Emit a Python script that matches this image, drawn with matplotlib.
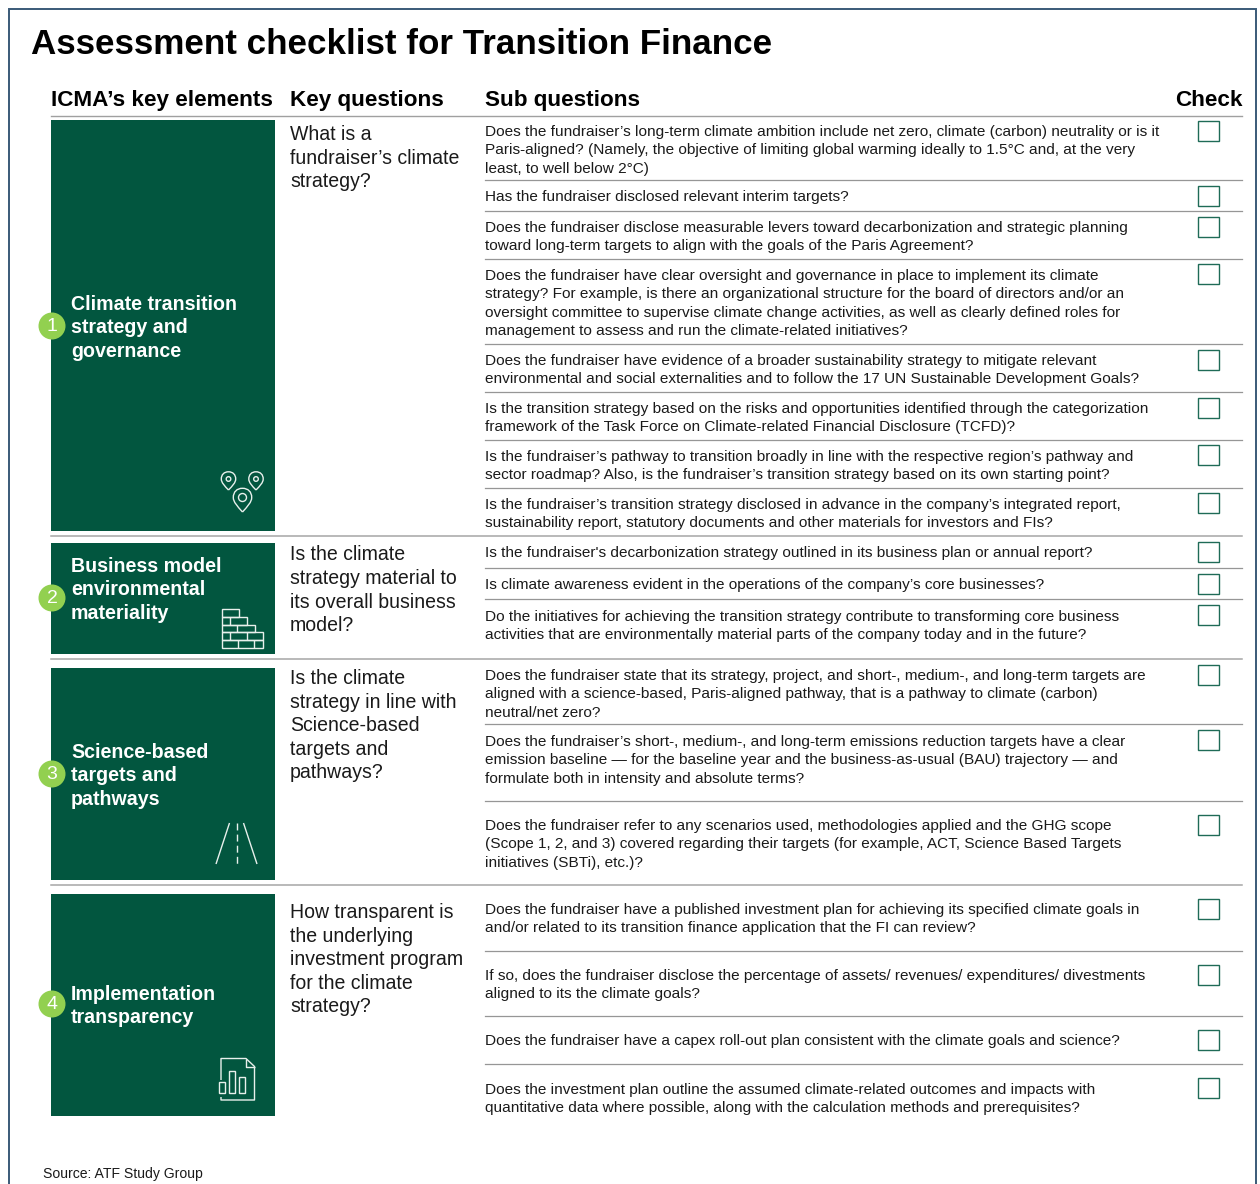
import matplotlib
matplotlib.use("Agg")
import matplotlib.pyplot as plt
from matplotlib.patches import Rectangle, Circle, PathPatch
from matplotlib.path import Path

plt.rcParams['font.family'] = ['Liberation Sans', 'DejaVu Sans']

TITLE = "Assessment checklist for Transition Finance"
HEADERS = ["ICMA’s key elements", "Key questions", "Sub questions", "Check"]
SOURCE = "Source: ATF Study Group"
ELEMENTS = [
    ["Climate transition", "strategy and", "governance"],
    ["Business model", "environmental", "materiality"],
    ["Science-based", "targets and", "pathways"],
    ["Implementation", "transparency"],
]
KEY_QUESTIONS = [
    ["What is a", "fundraiser’s climate", "strategy?"],
    ["Is the climate", "strategy material to", "its overall business", "model?"],
    ["Is the climate", "strategy in line with", "Science-based", "targets and", "pathways?"],
    ["How transparent is", "the underlying", "investment program", "for the climate", "strategy?"],
]
SUB_QUESTIONS = [
    ["Does the fundraiser’s long-term climate ambition include net zero, climate (carbon) neutrality or is it",
     "Paris-aligned? (Namely, the objective of limiting global warming ideally to 1.5°C and, at the very",
     "least, to well below 2°C)"],
    ["Has the fundraiser disclosed relevant interim targets?"],
    ["Does the fundraiser disclose measurable levers toward decarbonization and strategic planning",
     "toward long-term targets to align with the goals of the Paris Agreement?"],
    ["Does the fundraiser have clear oversight and governance in place to implement its climate",
     "strategy? For example, is there an organizational structure for the board of directors and/or an",
     "oversight committee to supervise climate change activities, as well as clearly defined roles for",
     "management to assess and run the climate-related initiatives?"],
    ["Does the fundraiser have evidence of a broader sustainability strategy to mitigate relevant",
     "environmental and social externalities and to follow the 17 UN Sustainable Development Goals?"],
    ["Is the transition strategy based on the risks and opportunities identified through the categorization",
     "framework of the Task Force on Climate-related Financial Disclosure (TCFD)?"],
    ["Is the fundraiser’s pathway to transition broadly in line with the respective region’s pathway and",
     "sector roadmap? Also, is the fundraiser’s transition strategy based on its own starting point?"],
    ["Is the fundraiser’s transition strategy disclosed in advance in the company’s integrated report,",
     "sustainability report, statutory documents and other materials for investors and FIs?"],
    ["Is the fundraiser's decarbonization strategy outlined in its business plan or annual report?"],
    ["Is climate awareness evident in the operations of the company’s core businesses?"],
    ["Do the initiatives for achieving the transition strategy contribute to transforming core business",
     "activities that are environmentally material parts of the company today and in the future?"],
    ["Does the fundraiser state that its strategy, project, and short-, medium-, and long-term targets are",
     "aligned with a science-based, Paris-aligned pathway, that is a pathway to climate (carbon)",
     "neutral/net zero?"],
    ["Does the fundraiser’s short-, medium-, and long-term emissions reduction targets have a clear",
     "emission baseline — for the baseline year and the business-as-usual (BAU) trajectory — and",
     "formulate both in intensity and absolute terms?"],
    ["Does the fundraiser refer to any scenarios used, methodologies applied and the GHG scope",
     "(Scope 1, 2, and 3) covered regarding their targets (for example, ACT, Science Based Targets",
     "initiatives (SBTi), etc.)?"],
    ["Does the fundraiser have a published investment plan for achieving its specified climate goals in",
     "and/or related to its transition finance application that the FI can review?"],
    ["If so, does the fundraiser disclose the percentage of assets/ revenues/ expenditures/ divestments",
     "aligned to its the climate goals?"],
    ["Does the fundraiser have a capex roll-out plan consistent with the climate goals and science?"],
    ["Does the investment plan outline the assumed climate-related outcomes and impacts with",
     "quantitative data where possible, along with the calculation methods and prerequisites?"],
]

# ---- layout (pixels, y downwards) ----
GREEN, LIME, INK, BOX = "#02563F", "#92D050", "#1a1a1a", "#1F6B57"
ICON = "#E8F0EC"
BLOCK_Y = [(120, 531), (543, 654), (668, 880), (894, 1116)]
ELEMENT_Y = [304, 566, 752, 994]
BADGE_Y = [326, 598, 774, 1004]
KEY_Y = [134.5, 555, 678.5, 912.5]
SUB_Y = [132, 197, 228, 276, 361, 409, 457, 505, 553, 585, 617, 676, 742, 826, 910, 976, 1041, 1090]
BOX_Y = [121, 186, 217, 264, 350, 398, 445, 493, 542, 574, 605, 665, 730, 815, 899, 965, 1030, 1078]
THIN_RULES = [180, 211, 259, 344, 392, 440, 488, 568, 599, 724, 801, 951, 1016, 1064]
FULL_RULES = [536, 659, 885]

fig = plt.figure(figsize=(12.6, 11.84), dpi=100)
ax = fig.add_axes([0, 0, 1, 1])
ax.set_xlim(0, 1260)
ax.set_ylim(1184, 0)
ax.axis("off")

# frame (open at the bottom)
ax.plot([8.5, 8.5, 1255.5, 1255.5], [1184, 8.5, 8.5, 1184], color="#3A5A78", lw=1.4, solid_joinstyle="miter")

ax.text(31, 44.5, TITLE, fontsize=25.17, fontweight="bold", va="center", color="black")
for x, h in zip([51, 290.5, 485, 1175], HEADERS):
    ax.text(x, 100.5, h, fontsize=16.2, fontweight="bold", va="center", color="black")

ax.plot([51, 1242], [116, 116], color="#a0a0a0", lw=1.0)
for y in THIN_RULES:
    ax.plot([485, 1242], [y, y], color="#969696", lw=0.9)
for y in FULL_RULES:
    ax.plot([51, 1242], [y, y], color="#a6a6a6", lw=1.1)

for (y0, y1), ey, by, lab, kq, ky, n in zip(BLOCK_Y, ELEMENT_Y, BADGE_Y, ELEMENTS, KEY_QUESTIONS, KEY_Y, range(1, 5)):
    ax.add_patch(Rectangle((51, y0), 224, y1 - y0, fc=GREEN, ec="none", zorder=2))
    for i, line in enumerate(lab):
        ax.text(71, ey + i * 23.7, line, fontsize=14.15, fontweight="bold", color="white", va="center", zorder=4)
    ax.add_patch(Circle((52, by), 13.5, fc=LIME, ec="none", zorder=3))
    ax.text(52, by + 0.5, str(n), fontsize=14, color="white", ha="center", va="center", zorder=4)
    for i, line in enumerate(kq):
        ax.text(290, ky + i * 23.6, line, fontsize=14.05, color=INK, va="center")

for lines, y in zip(SUB_QUESTIONS, SUB_Y):
    for i, line in enumerate(lines):
        ax.text(485, y + i * 18.4, line, fontsize=11.06, color=INK, va="center")
for y in BOX_Y:
    ax.add_patch(Rectangle((1198, y), 20.5, 20, fc="white", ec=BOX, lw=1.0))

ax.text(43, 1174, SOURCE, fontsize=10.1, color=INK, va="center")


# ---- icons ----
def stroke(xs, ys, **kw):
    kw.setdefault("lw", 1.0)
    ax.plot(xs, ys, color=ICON, zorder=5, solid_capstyle="butt", **kw)


def pin(cx, cy, r, tip, hole):
    verts = [(cx, cy + tip), (cx - r * 0.55, cy + r * 0.95), (cx - r, cy + r * 0.5), (cx - r, cy),
             (cx - r, cy - r * 0.62), (cx - r * 0.6, cy - r), (cx, cy - r),
             (cx + r * 0.6, cy - r), (cx + r, cy - r * 0.62), (cx + r, cy),
             (cx + r, cy + r * 0.5), (cx + r * 0.55, cy + r * 0.95), (cx, cy + tip)]
    codes = [Path.MOVETO] + [Path.CURVE4] * 12
    ax.add_patch(PathPatch(Path(verts, codes), fc="none", ec=ICON, lw=1.0, zorder=5))
    ax.add_patch(Circle((cx, cy), hole, fc="none", ec=ICON, lw=1.0, zorder=5))


pin(228.5, 479, 7.2, 11, 2.3)
pin(256, 479, 7.2, 11, 2.3)
pin(242.5, 497.5, 9.2, 14.5, 4)

# bricks
for x0, x1, y0, y1 in [(222, 238.5, 609, 617), (222, 247, 617, 625), (222, 255, 625, 632),
                       (222, 263, 632, 640), (222, 263, 640, 648)]:
    ax.add_patch(Rectangle((x0, y0), x1 - x0, y1 - y0, fc="none", ec=ICON, lw=1.0, zorder=5))
for x, y0, y1 in [(230, 617, 625), (237, 625, 632), (230, 632, 640), (247, 632, 640),
                  (238, 640, 648), (254, 640, 648)]:
    stroke([x, x], [y0, y1])

# road
stroke([216, 229.5], [864, 823])
stroke([257, 243.5], [864, 823])
stroke([236.5, 236.5], [823, 864], ls=(0, (5, 3)))

# document with bars
stroke([221, 221, 246, 254.5, 254.5, 221, 221],
       [1080, 1058.5, 1058.5, 1066.5, 1100, 1100, 1097])
stroke([246, 246, 254.5], [1058.5, 1066.5, 1066.5])
for x, y, w, h in [(218.5, 1082, 6.5, 11), (228.5, 1071, 6.5, 22), (238.5, 1076.5, 6.5, 16.5)]:
    ax.add_patch(Rectangle((x, y), w, h, fc="none", ec=ICON, lw=1.0, zorder=5))

fig.savefig("out.png", dpi=100, facecolor="white")
